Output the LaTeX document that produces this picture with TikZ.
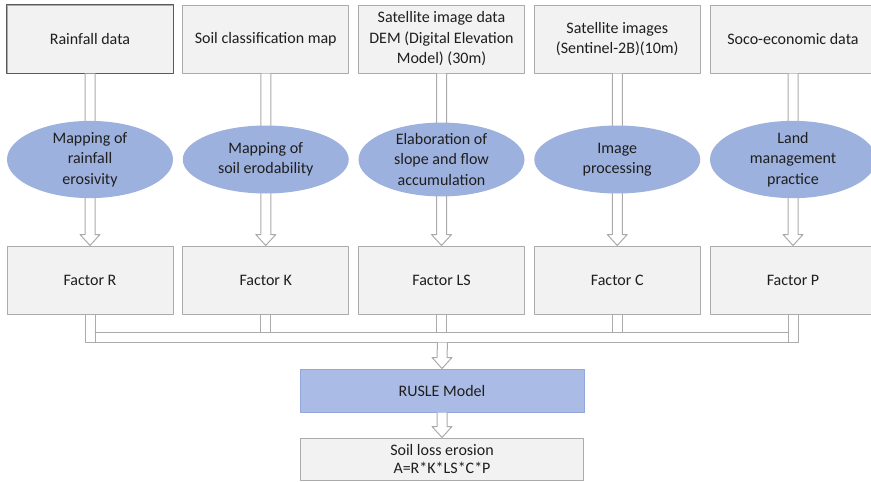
\documentclass[tikz,border=0pt]{standalone}
\usepackage{fontspec}
\setmainfont{Carlito}
\usetikzlibrary{calc,shapes.geometric}
\definecolor{boxfill}{HTML}{F2F2F2}
\definecolor{boxline}{HTML}{ABABAB}
\definecolor{ovalfill}{HTML}{9DB1DF}
\definecolor{modelfill}{HTML}{AABCE6}
\definecolor{modelline}{HTML}{93A7D8}
\definecolor{txt}{HTML}{1E1E1E}
\newcommand{\hollowarrow}[2]{%
	\draw[pipe,fill=white] ($(#1)+(-5,0)$) -- ($(#2)+(-5,-11)$) -- ($(#2)+(-10,-11)$) -- (#2) -- ($(#2)+(10,-11)$) -- ($(#2)+(5,-11)$) -- ($(#1)+(5,0)$);}
\begin{document}
\begin{tikzpicture}[x=1pt,y=-1pt,line join=round,line cap=round,
		font=\fontsize{16}{20.5}\selectfont,text=txt,
		databox/.style={draw=boxline,line width=1pt,fill=boxfill,minimum width=166pt,minimum height=68pt,align=center,inner sep=2pt},
		oval/.style={ellipse,fill=ovalfill,minimum width=166pt,minimum height=68pt,align=center,inner sep=0pt},
		pipe/.style={draw=boxline,line width=1pt},
		modelbox/.style={databox,fill=modelfill,draw=modelline,minimum width=284pt,minimum height=43pt},
		resultbox/.style={databox,minimum width=283pt,minimum height=42pt,font=\fontsize{16}{18.5}\selectfont}]
			\useasboundingbox (0,0) rectangle (871,482);
			\foreach \n/\x/\t in {R/90/Rainfall data,K/265.75/Soil classification map,LS/441.5/{Satellite image data\\DEM (Digital Elevation\\Model) (30m)},C/617.25/{Satellite images\\(Sentinel-2B)(10m)},P/793/Soco-economic data}
				{\node[databox] (src\n) at (\x,39) {\t};
				\node[databox] (f\n) at (\x,280) {Factor \n};}
			\draw[line width=1pt,draw=gray!70!black] (srcR.south west) rectangle (srcR.north east);
			\foreach \n in {R,K,LS,C,P} \hollowarrow{src\n.south}{f\n.north};
			\foreach \n/\t in {R/{Mapping of\\rainfall\\erosivity},K/{Mapping of\\soil erodability},LS/{Elaboration of\\slope and flow\\accumulation},C/{Image\\processing},P/{Land\\management\\practice}}
				\node[oval] (map\n) at ($(src\n.south)!0.5!(f\n.north)$) {\t};
			\draw[pipe] ($(fR.south)+(-5,0)$) |- ($(fP.south)+(5,28)$) -- ($(fP.south)+(5,0)$);
			\draw[pipe] ($(fR.south)+(5,0)$) -- ++(0,28);
			\draw[pipe] ($(fP.south)+(-5,0)$) -- ++(0,28);
			\draw[pipe] ($(fR.south)+(5,18)$) -- ($(fP.south)+(-5,18)$);
			\foreach \n in {K,LS,C} \draw[pipe] ($(f\n.south)+(-5,0)$) -- ++(0,18) ($(f\n.south)+(5,0)$) -- ++(0,18);
			\coordinate (bus) at ($(fLS.south)+(1,28)$);
			\node[modelbox] (model) at (442,390.5) {RUSLE Model};
			\node[resultbox] (loss) at (442,459) {Soil loss erosion\\A=R*K*LS*C*P};
			\hollowarrow{bus}{model.north};
			\hollowarrow{model.south}{loss.north};
\end{tikzpicture}
\end{document}
